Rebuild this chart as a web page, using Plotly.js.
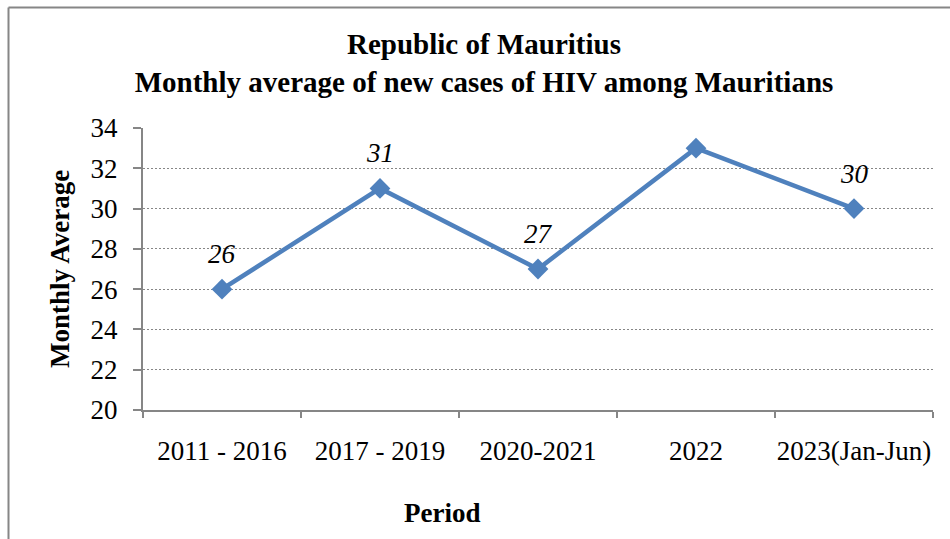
<!DOCTYPE html>
<html>
<head>
<meta charset="utf-8">
<script src="https://cdn.plot.ly/plotly-3.0.1.min.js"></script>
<style>
html,body{margin:0;padding:0;background:#fff;}
#chart{width:950px;height:539px;}
</style>
</head>
<body>
<div id="chart"></div>
<script>
var periods = ["2011 - 2016", "2017 - 2019", "2020-2021", "2022", "2023(Jan-Jun)"];
var monthlyAverage = [26, 31, 27, 33, 30];
var valueLabels = ["26", "31", "27", "33", "30"];
var yTicks = [20, 22, 24, 26, 28, 30, 32, 34];

var FONT = "Liberation Serif, Times New Roman, serif";
var BLUE = "#4F81BD";
var GRAY = "#868686";

var L = 143, R = 17, T = 128, B = 129, W = 950, H = 539;
var pw = W - L - R, ph = H - T - B;
function px(x){ return (x - L) / pw; }
function py(y){ return (H - B - y) / ph; }

var trace = {
  type: "scatter",
  mode: "lines+markers",
  x: periods,
  y: monthlyAverage,
  line: {color: BLUE, width: 4.5},
  marker: {symbol: "diamond", size: 16, color: BLUE},
  hoverinfo: "x+y"
};

var annotations = periods.map(function(p, i){
  return {
    x: p, y: monthlyAverage[i], xref: "x", yref: "y",
    text: valueLabels[i], showarrow: false,
    yshift: 35,
    font: {family: FONT, size: 27, color: "#000", style: "italic"}
  };
});
annotations.push({
  xref: "paper", yref: "paper",
  x: px(442), y: py(513),
  xanchor: "center", yanchor: "middle",
  text: "<b>Period</b>", showarrow: false,
  font: {family: FONT, size: 27, color: "#000"}
});

var layout = {
  width: W, height: H,
  margin: {l: L, r: R, t: T, b: B},
  paper_bgcolor: "#fff",
  plot_bgcolor: "#fff",
  showlegend: false,
  title: {
    text: "<b>Republic of Mauritius<br>Monthly average of new cases of HIV among Mauritians</b>",
    xref: "container", yref: "container",
    x: 484 / W, xanchor: "center",
    y: 1 - 54 / H, yanchor: "top",
    font: {family: FONT, size: 29, color: "#000"}
  },
  xaxis: {
    type: "category",
    range: [-0.5, 4.5],
    showgrid: false,
    zeroline: false,
    showline: true, linecolor: GRAY, linewidth: 2,
    ticks: "outside", tickson: "boundaries", ticklen: 6, tickcolor: GRAY, tickwidth: 2,
    tickangle: 0,
    ticklabelstandoff: 16,
    tickfont: {family: FONT, size: 27, color: "#000"},
    fixedrange: true
  },
  yaxis: {
    range: [20, 34],
    tickvals: yTicks,
    ticktext: yTicks.map(String),
    showgrid: true, gridcolor: GRAY, gridwidth: 1.2, griddash: "2px,2px",
    zeroline: false,
    showline: true, linecolor: GRAY, linewidth: 2,
    ticks: "outside", ticklen: 8, tickcolor: GRAY, tickwidth: 2,
    ticklabelstandoff: 10,
    tickfont: {family: FONT, size: 27, color: "#000"},
    title: {text: "<b>Monthly Average</b>", font: {family: FONT, size: 27, color: "#000"}, standoff: 13},
    fixedrange: true
  },
  annotations: annotations,
  shapes: [
    {type: "line", xref: "paper", yref: "paper", x0: px(8.5), x1: px(952), y0: py(7.5), y1: py(7.5), line: {color: GRAY, width: 2}},
    {type: "line", xref: "paper", yref: "paper", x0: px(8.5), x1: px(8.5), y0: py(7.5), y1: py(545), line: {color: GRAY, width: 2}}
  ]
};

Plotly.newPlot("chart", [trace], layout, {displayModeBar: false, staticPlot: true});
</script>
</body>
</html>
